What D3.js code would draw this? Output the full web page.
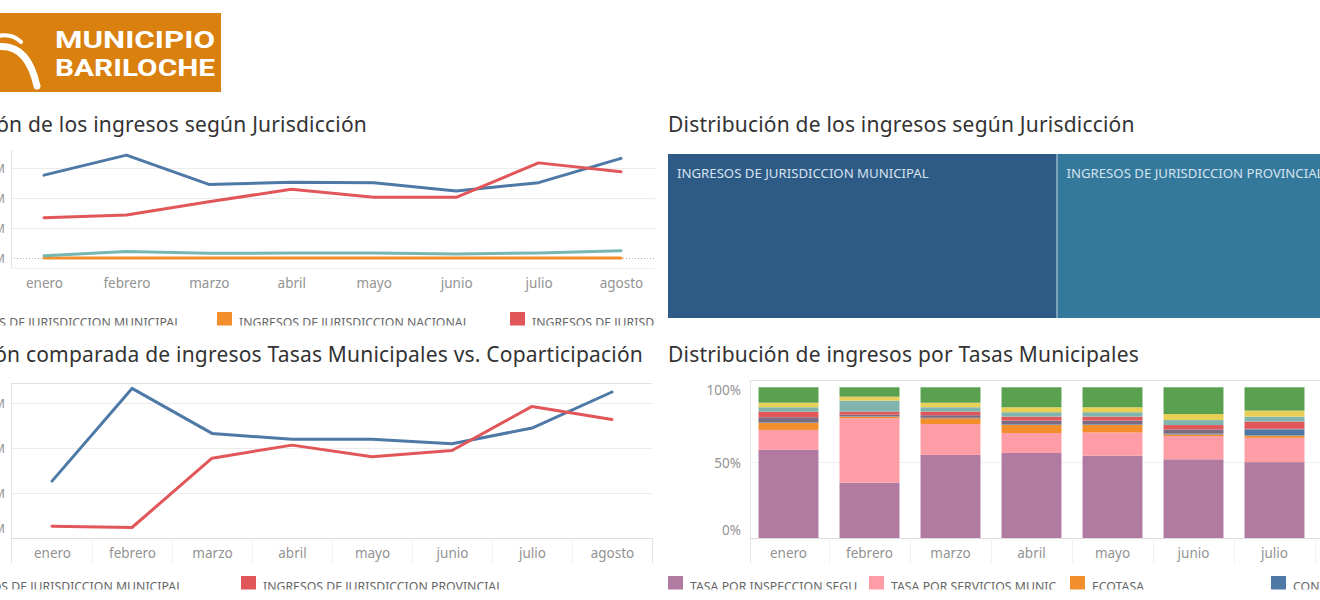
<!DOCTYPE html>
<html><head><meta charset="utf-8">
<script src="https://cdn.jsdelivr.net/npm/d3@7"></script>
<style>
html,body{margin:0;padding:0;background:#fff;overflow:hidden}
svg{display:block;font-family:"Noto Sans","Open Sans",sans-serif}
</style></head><body>
<svg id="c" width="1320" height="600"></svg>
<script>
// ---------------- DATA ----------------
const months = ["enero","febrero","marzo","abril","mayo","junio","julio","agosto"];

// Evolución de los ingresos según Jurisdicción (millones)
const jurMunicipal  = [2780,3450,2470,2540,2530,2250,2530,3340];
const jurProvincial = [1360,1450,1890,2310,2040,2040,3190,2890];
const jurOtros      = [90,230,170,180,180,150,180,260];
const jurNacional   = [10,10,10,10,10,10,10,10];
const jurTicks      = [0,1000,2000,3000];
const jurTickLabels = ["0M","1.000M","2.000M","3.000M"];
const jurNames      = ["INGRESOS DE JURISDICCION MUNICIPAL","INGRESOS DE JURISDICCION NACIONAL","INGRESOS DE JURISDICCION PROVINCIAL","OTROS INGRESOS"];

// Evolución comparada Tasas Municipales vs. Coparticipación (millones)
const compMunicipal  = [1270,3330,2330,2200,2200,2100,2450,3250];
const compProvincial = [270,240,1780,2070,1810,1950,2930,2640];
const compTicks      = [0,1000,2000,3000];
const compTickLabels = ["0M","1.000M","2.000M","3.000M"];
const compNames      = ["INGRESOS DE JURISDICCION MUNICIPAL","INGRESOS DE JURISDICCION PROVINCIAL"];

// Distribución de ingresos por Tasas Municipales (% por mes)
const tasaNames = ["TASA POR INSPECCION SEGU","TASA POR SERVICIOS MUNIC","ECOTASA","CONTRIBUCION DE MEJORAS","DERECHOS DE OFICINA","TASA DE HABILITACION","DERECHOS DE CONSTRUCCION","TASA VIAL","OTRAS TASAS"];
const tasaInspeccion   = [58.5,36.8,55.2,56.5,54.7,52.3,50.7,50.0];
const tasaServicios    = [13.2,42.6,20.5,13.2,15.4,15.4,16.2,15.5];
const tasaEcotasa      = [4.8,1.1,3.8,5.5,5.1,1.1,1.5,2.0];
const tasaContribucion = [0.4,0.3,0.3,0.4,0.4,0.5,4.0,3.5];
const tasaOficina      = [3.2,1.0,1.7,2.4,2.4,2.8,0.5,0.6];
const tasaHabilitacion = [3.7,2.0,2.4,2.6,2.6,2.9,4.8,4.5];
const tasaConstruccion = [2.9,7.3,2.9,2.9,2.9,3.3,3.3,3.4];
const tasaVial         = [3.0,2.6,3.0,3.3,3.3,4.0,4.0,4.0];
const tasaOtras        = [10.2,6.2,10.2,13.2,13.2,17.7,15.5,16.0];
const pctTicks = [0,0.5,1];

// ---------------- STYLE ----------------
const C = {blue:"#4e79a7", orange:"#f28e2b", red:"#e15759", teal:"#76b7b2"};
const tasaColors = ["#b07aa1","#ff9da7","#f28e2b","#4e79a7","#7d6b82","#e15759","#7fb5ad","#e8cf55","#59a14f"];
const axisCol = "#939393", gridCol = "#ececec", frameCol = "#e2e2e2";
const LEG_FS = 12.3;

const svg = d3.select("#c");
const defs = svg.append("defs");
function clip(id,x,y,w,h){defs.append("clipPath").attr("id",id).append("rect").attr("x",x).attr("y",y).attr("width",w).attr("height",h);}
function hline(g,x1,x2,y,col,dash){g.append("line").attr("x1",x1).attr("x2",x2).attr("y1",y).attr("y2",y).attr("stroke",col).attr("stroke-width",1).attr("stroke-dasharray",dash||null).attr("shape-rendering","crispEdges");}
function vline(g,x,y1,y2,col){g.append("line").attr("x1",x).attr("x2",x).attr("y1",y1).attr("y2",y2).attr("stroke",col).attr("stroke-width",1).attr("shape-rendering","crispEdges");}
function styleAxis(g,size){g.select(".domain").remove();g.selectAll(".tick line").remove();g.selectAll("text").attr("fill",axisCol).attr("font-size",size||13.5).attr("font-family","'Noto Sans',sans-serif");}

// ---------------- LOGO ----------------
const logo = svg.append("g");
logo.append("rect").attr("x",0).attr("y",13).attr("width",221).attr("height",79).attr("fill","#d9800f");
logo.append("path").attr("d","M-4,47 Q27,42 37,86").attr("stroke","#fff").attr("stroke-width",7).attr("fill","none").attr("stroke-linecap","round");
logo.append("path").attr("d","M-2,36 Q12,33 21,42").attr("stroke","#fff").attr("stroke-width",4).attr("fill","none").attr("stroke-linecap","round");
logo.append("text").attr("x",55).attr("y",48).attr("font-family","Roboto,sans-serif").attr("font-weight",700).attr("font-size",24.5).attr("fill","#fff").attr("textLength",160).attr("lengthAdjust","spacingAndGlyphs").text("MUNICIPIO");
logo.append("text").attr("x",55).attr("y",76).attr("font-family","Roboto,sans-serif").attr("font-weight",700).attr("font-size",24.5).attr("fill","#fff").attr("textLength",160).attr("lengthAdjust","spacingAndGlyphs").text("BARILOCHE");

// ---------------- TITLES ----------------
function title(x,y,anchor,t){svg.append("text").attr("x",x).attr("y",y).attr("text-anchor",anchor).attr("font-size",21).attr("letter-spacing",0.2).attr("fill","#333").text(t);}
title(367,132,"end","Evolución de los ingresos según Jurisdicción");
title(668,132,"start","Distribución de los ingresos según Jurisdicción");
title(643,362,"end","Evolución comparada de ingresos Tasas Municipales vs. Coparticipación");
title(668,362,"start","Distribución de ingresos por Tasas Municipales");

// ---------------- LEGEND helper ----------------
function legend(items, x0, step, ySq, clipId){
  const g = svg.append("g").attr("clip-path",`url(#${clipId})`);
  items.forEach((it,i)=>{
    const x = x0 + i*step;
    g.append("rect").attr("x",x).attr("y",ySq).attr("width",15).attr("height",14).attr("fill",it.color);
    g.append("text").attr("x",x+22).attr("y",ySq+14.5).attr("font-size",LEG_FS).attr("fill","#666").text(it.name);
  });
}

// ---------------- CHART 1: lines by jurisdiction ----------------
{
  const g = svg.append("g");
  const x = d3.scalePoint().domain(months).range([44,621]);
  const y = d3.scaleLinear().domain([-320,3620]).range([268,150]);
  jurTicks.filter(t=>t!==0).forEach(t=>hline(g,11,655,y(t),gridCol));
  hline(g,11,655,y(0),"#b5b5b5","1,2");
  vline(g,11,150,268,frameCol);
  hline(g,11,655,268,"#f0f0f0");
  const ya = g.append("g").attr("transform","translate(5,0)").call(d3.axisLeft(y).tickValues(jurTicks).tickSize(0).tickPadding(0).tickFormat((d,i)=>jurTickLabels[i]));
  styleAxis(ya,12);
  const xa = g.append("g").attr("transform","translate(0,268)").call(d3.axisBottom(x).tickSize(0).tickPadding(10));
  styleAxis(xa);
  const line = d3.line().x((d,i)=>x(months[i])).y(d=>y(d));
  [[jurNacional,C.orange],[jurOtros,C.teal],[jurMunicipal,C.blue],[jurProvincial,C.red]].forEach(([s,c])=>{
    g.append("path").attr("d",line(s)).attr("fill","none").attr("stroke",c).attr("stroke-width",3).attr("stroke-linejoin","round").attr("stroke-linecap","round");
  });
  clip("cl1",-200,300,855,25.5);
  legend([{name:jurNames[0],color:C.blue},{name:jurNames[1],color:C.orange},{name:jurNames[2],color:C.red},{name:jurNames[3],color:C.teal}],-76,293,312,"cl1");
}

// ---------------- CHART 2: treemap ----------------
{
  const W = 721, H = 164;
  const tm = {children:[
    {name:jurNames[0], value:d3.sum(jurMunicipal), color:"#2e5a86"},
    {name:jurNames[2], value:d3.sum(jurProvincial), color:"#34799b"},
    {name:jurNames[3], value:d3.sum(jurOtros), color:"#4d9bb0"},
    {name:jurNames[1], value:d3.sum(jurNacional), color:"#63aebb"}]};
  const root = d3.hierarchy(tm).sum(d=>d.children?0:d.value);
  d3.treemap().tile(d3.treemapDice).size([W,H]).paddingInner(1)(root);
  const g = svg.append("g").attr("transform","translate(668,154)");
  g.append("rect").attr("width",W).attr("height",H).attr("fill","#c9dbe8");
  const cell = g.selectAll("g").data(root.leaves()).join("g").attr("transform",d=>`translate(${d.x0},${d.y0})`);
  cell.append("rect").attr("width",d=>d.x1-d.x0).attr("height",d=>d.y1-d.y0).attr("fill",d=>d.data.color);
  cell.filter(d=>d.x1-d.x0>100).append("text").attr("x",9).attr("y",24).attr("font-size",13.2).attr("fill","#d6e2ee").text(d=>d.data.name);
}

// ---------------- CHART 3: comparada ----------------
{
  const g = svg.append("g");
  const x = d3.scalePoint().domain(months).range([52,612]);
  const y = d3.scaleLinear().domain([0,3450]).range([538.3,383]);
  compTicks.filter(t=>t!==0).forEach(t=>hline(g,11,652,y(t),gridCol));
  hline(g,11,652,383,frameCol);
  hline(g,11,652,538,"#dcdcdc");
  vline(g,11,383,563,frameCol);
  vline(g,652,538,563,frameCol);
  months.slice(1).forEach((m,i)=>vline(g,(x(m)+x(months[i]))/2,538,563,"#f1f1f1"));
  const ya = g.append("g").attr("transform","translate(5,0)").call(d3.axisLeft(y).tickValues(compTicks).tickSize(0).tickPadding(0).tickFormat((d,i)=>compTickLabels[i]));
  styleAxis(ya,12);
  ya.selectAll(".tick").filter(d=>d===0).select("text").attr("dy","-0.45em");
  const xa = g.append("g").attr("transform","translate(0,538)").call(d3.axisBottom(x).tickSize(0).tickPadding(10));
  styleAxis(xa);
  const line = d3.line().x((d,i)=>x(months[i])).y(d=>y(d));
  [[compMunicipal,C.blue],[compProvincial,C.red]].forEach(([s,c])=>{
    g.append("path").attr("d",line(s)).attr("fill","none").attr("stroke",c).attr("stroke-width",3).attr("stroke-linejoin","round").attr("stroke-linecap","round");
  });
  clip("cl3",-200,570,855,19.5);
  legend([{name:compNames[0],color:C.blue},{name:compNames[1],color:C.red}],-74,315,576,"cl3");
}

// ---------------- CHART 4: stacked 100% bars ----------------
{
  const g = svg.append("g");
  const series = [tasaInspeccion,tasaServicios,tasaEcotasa,tasaContribucion,tasaOficina,tasaHabilitacion,tasaConstruccion,tasaVial,tasaOtras];
  const rows = months.map((m,i)=>{const r={month:m}; tasaNames.forEach((n,k)=>r[n]=series[k][i]); return r;});
  const stack = d3.stack().keys(tasaNames).offset(d3.stackOffsetExpand)(rows);
  const x = d3.scaleBand().domain(months).range([748,1396]).paddingInner(0.26).paddingOuter(0.13);
  const y = d3.scaleLinear().domain([0,1]).range([538.3,387.3]);
  hline(g,750,1320,380,frameCol);
  vline(g,750,380,563,frameCol);
  hline(g,750,1320,y(0.5),"#efefef");
  const ya = g.append("g").attr("transform","translate(741,0)").call(d3.axisLeft(y).tickValues(pctTicks).tickSize(0).tickPadding(0).tickFormat(d3.format(".0%")));
  styleAxis(ya);
  ya.selectAll(".tick").filter(d=>d===0).select("text").attr("dy","-0.3em");
  ya.selectAll(".tick").filter(d=>d===1).select("text").attr("dy","0.5em");
  g.selectAll("g.layer").data(stack).join("g").attr("class","layer").attr("fill",(d,i)=>tasaColors[i])
    .selectAll("rect").data(d=>d).join("rect")
    .attr("x",d=>x(d.data.month)).attr("width",x.bandwidth())
    .attr("y",d=>y(d[1])).attr("height",d=>Math.max(0,y(d[0])-y(d[1])));
  hline(g,750,1320,538,"#dcdcdc");
  months.slice(1).forEach((m,i)=>vline(g,x(m)-x.step()*x.paddingInner()/2,538,563,"#f1f1f1"));
  const xa = g.append("g").attr("transform","translate(0,538)").call(d3.axisBottom(x).tickSize(0).tickPadding(10));
  styleAxis(xa);
  clip("cl4",660,570,700,19.5);
  legend(tasaNames.slice(0,4).map((n,i)=>({name:n,color:tasaColors[i]})),668,201,576,"cl4");
}
</script>
</body></html>
